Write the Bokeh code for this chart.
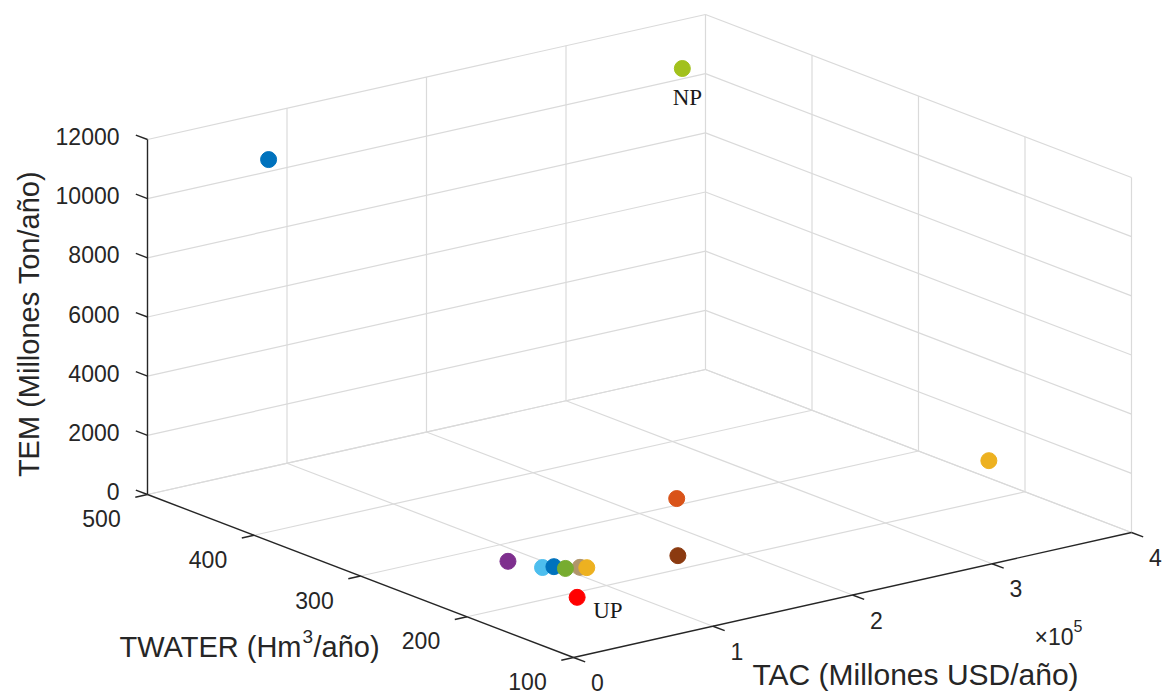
import numpy as np
from bokeh.plotting import figure
from bokeh.models import Range1d
from bokeh.core.properties import value
from bokeh.embed import file_html
from bokeh.resources import INLINE

# ---------------- data ----------------
TAC = [55500, 383400, 380200, 203000, 158800, 68300, 95500, 80100, 85200, 90400, 99600, 67500]
TWATER = [459, 500, 208, 269, 210, 251, 219, 234, 230, 226, 218, 185]
TEM = [11300, 10350, 1150, 900, 250, 450, 400, 350, 380, 320, 360, 150]
COLORS = ["#0072BD", "#A2C11C", "#EDB120", "#D95319", "#8B3A10", "#7E2F8E",
          "#B0956B", "#4DBEEE", "#0072BD", "#77AC30", "#EDB120", "#FF0000"]
TAGS = ["", "NP", "", "", "", "", "", "", "", "", "", "UP"]

TAC_LIM = [0, 400000]
TW_LIM = [100, 500]
TEM_LIM = [0, 12000]
TAC_TICKS = [0, 100000, 200000, 300000, 400000]
TAC_TICK_LABELS = ["0", "1", "2", "3", "4"]
TW_TICKS = [100, 200, 300, 400, 500]
TW_TICK_LABELS = ["100", "200", "300", "400", "500"]
TEM_TICKS = [0, 2000, 4000, 6000, 8000, 10000, 12000]
TEM_TICK_LABELS = ["0", "2000", "4000", "6000", "8000", "10000", "12000"]

X_LABEL = "TAC (Millones USD/año)"
Y_LABEL_A, Y_LABEL_SUP, Y_LABEL_B = "TWATER (Hm", "3", "/año)"
Z_LABEL = "TEM (Millones Ton/año)"

# ---------------- view (orthographic projection) ----------------
W, H = 1163, 695
ORIGIN = np.array([573.0, 657.0])       # screen position of (TAC min, TW min, TEM min)
E_TAC = np.array([558.0, -125.0])       # screen vector spanning the TAC range
E_TW = np.array([-426.0, -163.0])       # screen vector spanning the TWATER range
E_TEM = np.array([0.0, -355.0])         # screen vector spanning the TEM range


def proj(tac, tw, tem):
    a = (np.asarray(tac, float) - TAC_LIM[0]) / (TAC_LIM[1] - TAC_LIM[0])
    b = (np.asarray(tw, float) - TW_LIM[0]) / (TW_LIM[1] - TW_LIM[0])
    t = (np.asarray(tem, float) - TEM_LIM[0]) / (TEM_LIM[1] - TEM_LIM[0])
    sx = ORIGIN[0] + a * E_TAC[0] + b * E_TW[0] + t * E_TEM[0]
    sy = ORIGIN[1] + a * E_TAC[1] + b * E_TW[1] + t * E_TEM[1]
    return sx, H - sy   # bokeh y goes up


def unit(v):
    return v / np.hypot(*v)


p = figure(width=W, height=H, x_range=Range1d(0, W), y_range=Range1d(0, H),
           x_axis_type=None, y_axis_type=None, min_border=0,
           toolbar_location=None, output_backend="svg",
           outline_line_color=None, background_fill_color="white",
           border_fill_color="white")

GRID = "#DADADA"
AXC = "#262626"

# ---------------- grid lines on the back walls and floor ----------------
xs, ys = [], []


def seg(p0, p1):
    x, y = proj([p0[0], p1[0]], [p0[1], p1[1]], [p0[2], p1[2]])
    xs.append(list(x))
    ys.append(list(y))


tac0, tac1 = TAC_LIM
tw0, tw1 = TW_LIM
z0, z1 = TEM_LIM
# wall TW = max
for z in TEM_TICKS:
    seg((tac0, tw1, z), (tac1, tw1, z))
for t in TAC_TICKS[1:]:
    seg((t, tw1, z0), (t, tw1, z1))
# wall TAC = max
for z in TEM_TICKS:
    seg((tac1, tw0, z), (tac1, tw1, z))
for w in TW_TICKS[:-1]:
    seg((tac1, w, z0), (tac1, w, z1))
# floor
for w in TW_TICKS[1:]:
    seg((tac0, w, z0), (tac1, w, z0))
for t in TAC_TICKS[1:]:
    seg((t, tw0, z0), (t, tw1, z0))
p.multi_line(xs, ys, line_color=GRID, line_width=1.2)

# ---------------- axes ----------------
axs, ays = [], []


def aseg(p0, p1):
    x, y = proj([p0[0], p1[0]], [p0[1], p1[1]], [p0[2], p1[2]])
    axs.append(list(x))
    ays.append(list(y))


aseg((tac0, tw1, z0), (tac0, tw1, z1))   # TEM axis
aseg((tac0, tw1, z0), (tac0, tw0, z0))   # TWATER axis
aseg((tac0, tw0, z0), (tac1, tw0, z0))   # TAC axis

TL = 12.5
d_tac = unit(-E_TW) * TL     # ticks of TAC axis point away from the box
d_tw = unit(-E_TAC) * TL
d_z = unit(E_TW) * TL
tick_xs, tick_ys = [], []
for t in TAC_TICKS:
    x, y = proj(t, tw0, z0)
    tick_xs.append([x, x + d_tac[0]]); tick_ys.append([y, y - d_tac[1]])
for w in TW_TICKS:
    x, y = proj(tac0, w, z0)
    tick_xs.append([x, x + d_tw[0]]); tick_ys.append([y, y - d_tw[1]])
for z in TEM_TICKS:
    x, y = proj(tac0, tw1, z)
    tick_xs.append([x, x + d_z[0]]); tick_ys.append([y, y - d_z[1]])
p.multi_line(axs + tick_xs, ays + tick_ys, line_color=AXC, line_width=1.4)

FONT = value("Liberation Sans")
TICK_FS = value("23px")
LAB_FS = value("29px")

# tick labels
x, y = proj(TAC_TICKS, [tw0] * len(TAC_TICKS), [z0] * len(TAC_TICKS))
p.text(x=x + 24, y=y - 25, text=TAC_TICK_LABELS, text_font=FONT, text_font_size=TICK_FS,
       text_color=AXC, text_align="center", text_baseline="middle")
x, y = proj([tac0] * len(TW_TICKS), TW_TICKS, [z0] * len(TW_TICKS))
p.text(x=x - 46, y=y - 24, text=TW_TICK_LABELS, text_font=FONT, text_font_size=TICK_FS,
       text_color=AXC, text_align="center", text_baseline="middle")
x, y = proj([tac0] * len(TEM_TICKS), [tw1] * len(TEM_TICKS), TEM_TICKS)
p.text(x=x - 28, y=y + 3, text=TEM_TICK_LABELS, text_font=FONT, text_font_size=TICK_FS,
       text_color=AXC, text_align="right", text_baseline="middle")

# exponent of TAC axis
ex, ey = proj(tac1, tw0, z0)
p.text(x=[ex - 58], y=[ey - 104], text=["\u00d710"], text_font=FONT, text_font_size=TICK_FS,
       text_color=AXC, text_align="right", text_baseline="middle")
p.text(x=[ex - 58], y=[ey - 93], text=["5"], text_font=FONT, text_font_size=value("16px"),
       text_color=AXC, text_align="left", text_baseline="middle")

# axis labels
mx, my = proj((tac0 + tac1) / 2, tw0, z0)
p.text(x=[mx + 63], y=[my - 79], text=[X_LABEL], text_font=FONT, text_font_size=value("30px"),
       text_color=AXC, text_align="center", text_baseline="middle")
mx, my = proj(tac0, (tw0 + tw1) / 2, z0)
sx = mx - 59
p.text(x=[sx], y=[my - 71], text=[Y_LABEL_A], text_font=FONT, text_font_size=LAB_FS,
       text_color=AXC, text_align="right", text_baseline="middle")
p.text(x=[sx + 1], y=[my - 60], text=[Y_LABEL_SUP], text_font=FONT, text_font_size=value("19px"),
       text_color=AXC, text_align="left", text_baseline="middle")
p.text(x=[sx + 12], y=[my - 71], text=[Y_LABEL_B], text_font=FONT, text_font_size=LAB_FS,
       text_color=AXC, text_align="left", text_baseline="middle")
mx, my = proj(tac0, tw1, (z0 + z1) / 2)
p.text(x=[mx - 119], y=[my - 7], text=[Z_LABEL], text_font=FONT, text_font_size=LAB_FS,
       text_color=AXC, text_align="center", text_baseline="middle", angle=np.pi / 2)

# ---------------- points ----------------
px_, py_ = proj(TAC, TWATER, TEM)
p.scatter(x=px_, y=py_, size=16, marker="circle", fill_color=COLORS, line_color=COLORS)

SERIF = value("Liberation Serif")
for i, tag in enumerate(TAGS):
    if tag == "NP":
        p.text(x=[px_[i] + 5], y=[py_[i] - 29], text=[tag], text_font=SERIF,
               text_font_size=value("23px"), text_color="#1A1A1A",
               text_align="center", text_baseline="middle")
    elif tag == "UP":
        p.text(x=[px_[i] + 16], y=[py_[i] - 13], text=[tag], text_font=SERIF,
               text_font_size=value("23px"), text_color="#1A1A1A",
               text_align="left", text_baseline="middle")

open("out.html", "w").write(file_html(p, INLINE))
